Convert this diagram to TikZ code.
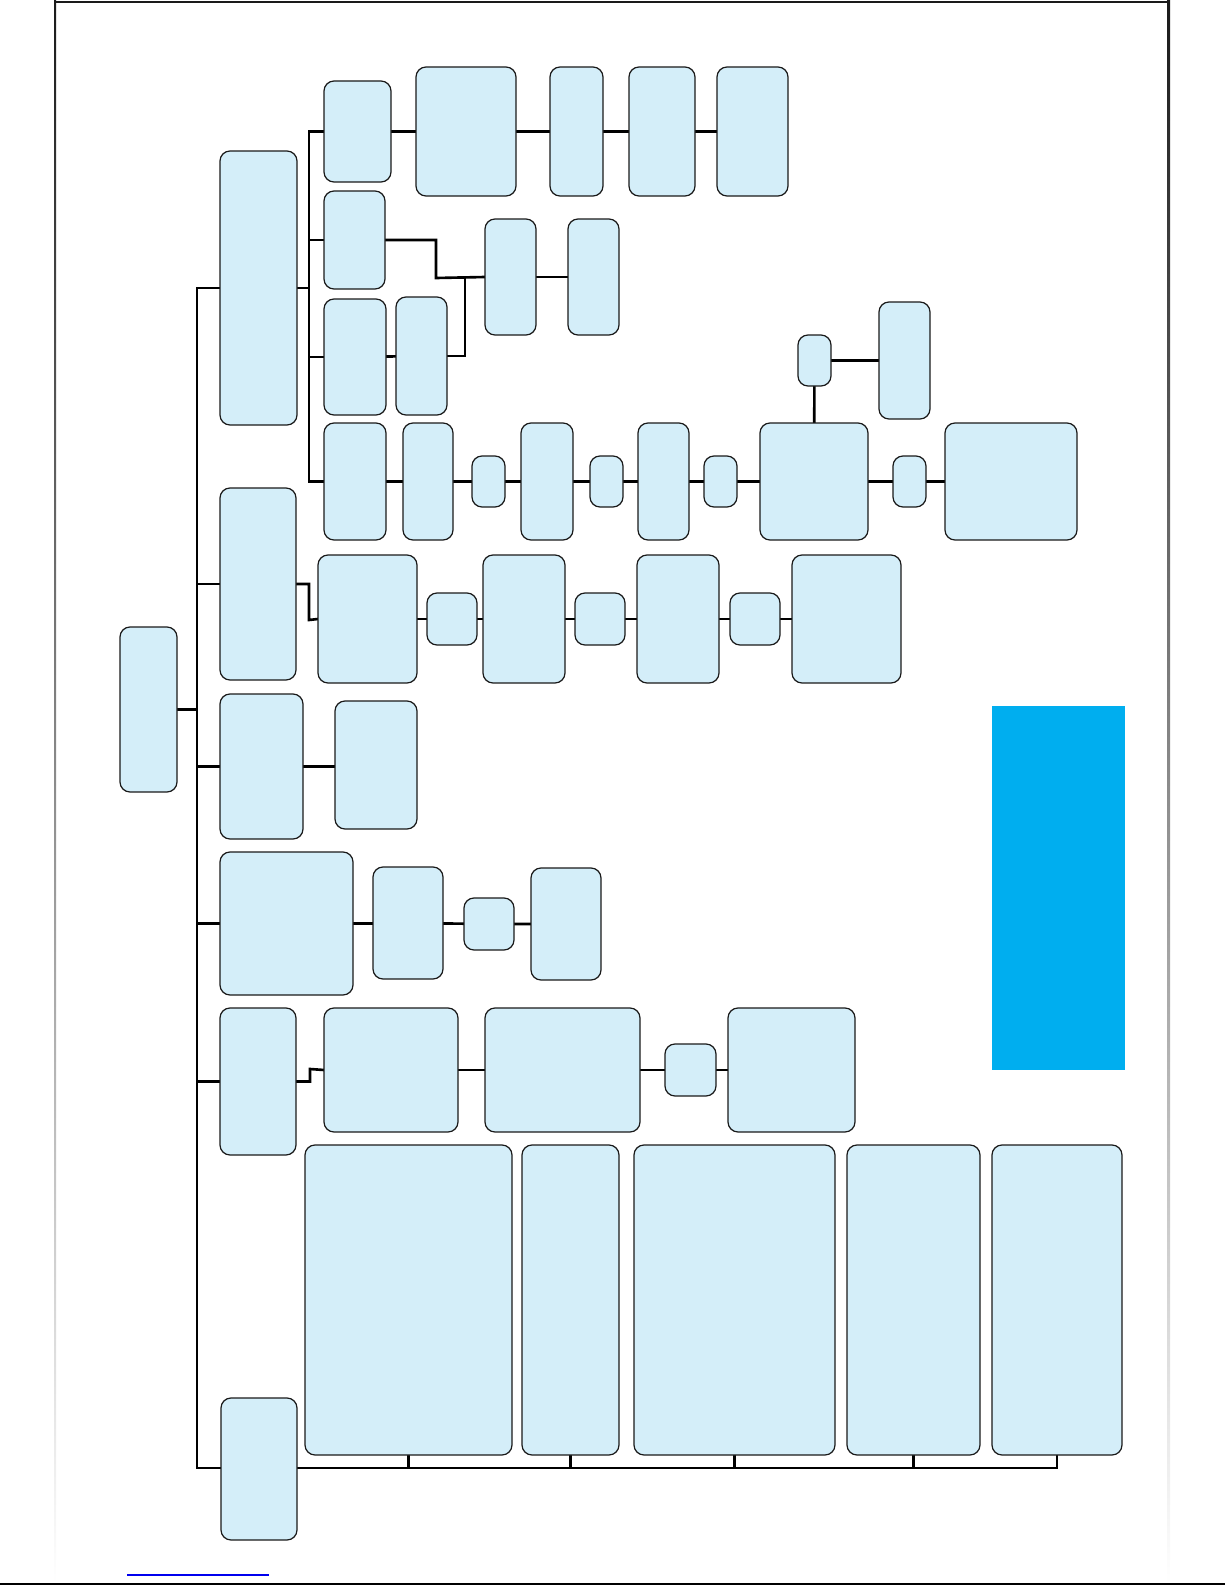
\documentclass[tikz,border=0pt]{standalone}
\usepackage{xcolor}
\usepackage{tikz}
\usetikzlibrary{backgrounds}
\definecolor{Ink}{HTML}{1A1A1A}
\definecolor{BoxFill}{HTML}{D4EEF9}
\definecolor{Banner}{HTML}{00AEEF}
\definecolor{LinkBlue}{HTML}{0000EE}
\newcommand\blkbox[5]{\node[blk,minimum width={(#4-#2)*0.02cm},minimum height={(#5-#3)*0.02cm}] (#1) at ({(#2+#4)/2},{(#3+#5)/2}) {};}

\begin{document}
\begin{tikzpicture}[x=0.02cm,y=-0.02cm,
  blk/.style={draw=Ink,fill=BoxFill,line width=0.7pt,rounded corners=0.2cm,inner sep=0pt,outer sep=0pt},
  wire/.style={draw=black,line width=1.5pt}]
  \useasboundingbox (0,0) rectangle (1225,1585);

  \blkbox{root}{120}{627}{177}{792}
  \blkbox{l1a}{220}{151}{297}{425}
  \blkbox{l1b}{220}{488}{296}{680}
  \blkbox{l1c}{220}{694}{303}{839}
  \blkbox{l1d}{220}{852}{353}{995}
  \blkbox{l1e}{220}{1008}{296}{1155}
  \blkbox{l1f}{221}{1398}{297}{1540}

  \blkbox{a1a}{324}{81}{391}{182}
  \blkbox{a1b}{416}{67}{516}{196}
  \blkbox{a1c}{550}{67}{603}{196}
  \blkbox{a1d}{629}{67}{695}{196}
  \blkbox{a1e}{717}{67}{788}{196}
  \blkbox{a2a}{324}{191}{385}{289}
  \blkbox{a2b}{485}{219}{536}{335}
  \blkbox{a2c}{568}{219}{619}{335}
  \blkbox{a3a}{324}{299}{386}{415}
  \blkbox{a3b}{396}{297}{447}{415}
  \blkbox{a4a}{324}{423}{386}{540}
  \blkbox{a4b}{403}{423}{453}{540}
  \blkbox{a4c}{472}{456}{505}{507}
  \blkbox{a4d}{521}{423}{573}{540}
  \blkbox{a4e}{590}{456}{623}{507}
  \blkbox{a4f}{638}{423}{689}{540}
  \blkbox{a4g}{704}{456}{737}{507}
  \blkbox{a4h}{760}{423}{868}{540}
  \blkbox{a4i}{893}{456}{926}{507}
  \blkbox{a4j}{945}{423}{1077}{540}
  \blkbox{hb}{798}{335}{831}{386}
  \blkbox{hc}{879}{302}{930}{419}

  \blkbox{b1a}{318}{555}{417}{683}
  \blkbox{b1b}{427}{593}{477}{645}
  \blkbox{b1c}{483}{555}{565}{683}
  \blkbox{b1d}{575}{593}{625}{645}
  \blkbox{b1e}{637}{555}{719}{683}
  \blkbox{b1f}{730}{593}{780}{645}
  \blkbox{b1g}{792}{555}{901}{683}

  \blkbox{c1a}{335}{701}{417}{829}

  \blkbox{d1a}{373}{867}{443}{979}
  \blkbox{d1b}{464}{898}{514}{950}
  \blkbox{d1c}{531}{868}{601}{980}

  \blkbox{e1a}{324}{1008}{458}{1132}
  \blkbox{e1b}{485}{1008}{640}{1132}
  \blkbox{e1c}{665}{1044}{716}{1096}
  \blkbox{e1d}{728}{1008}{855}{1132}

  \blkbox{f1}{305}{1145}{512}{1455}
  \blkbox{f2}{522}{1145}{619}{1455}
  \blkbox{f3}{634}{1145}{835}{1455}
  \blkbox{f4}{847}{1145}{980}{1455}
  \blkbox{f5}{992}{1145}{1122}{1455}

  \fill[Banner] (992,706) rectangle (1125,1070);

  \coordinate (sp) at (197,288);
  \coordinate (spb) at (197,1468);
  \coordinate (ss) at (309,131);
  \coordinate (kink) at (436,278);
  \coordinate (tee) at (465,278);
  \coordinate (bk) at (309,620);
  \coordinate (ek) at (310,1069);

  \begin{scope}[on background layer]
    \shade[top color=Ink,bottom color=white] (54,0) rectangle (56,1584);
    \shade[top color=Ink,bottom color=white] (1167,0) rectangle (1170,1584);
    \draw[Ink,line width=1.1pt] (54,2) -- (1170,2);
    \draw[black,line width=1.1pt] (0,1584) -- (1225,1584);
    \draw[LinkBlue,line width=0.6pt] (127,1575) -- (269,1575);

    \draw[wire] (root.east) -- (root.east -| sp);
    \draw[wire] (l1a.west) -- (sp) -- (spb) -| (f5.south);
    \draw[wire] (l1b.west) -- (l1b.west -| sp);
    \draw[wire] (l1c.west) -- (l1c.west -| sp);
    \draw[wire] (l1d.west) -- (l1d.west -| sp);
    \draw[wire] (l1e.west) -- (l1e.west -| sp);
    \draw[wire] (f1.south) -- (f1.south |- spb);
    \draw[wire] (f2.south) -- (f2.south |- spb);
    \draw[wire] (f3.south) -- (f3.south |- spb);
    \draw[wire] (f4.south) -- (f4.south |- spb);

    \draw[wire] (l1a.east) -- (l1a.east -| ss);
    \draw[wire] (a1a.west) -- (a1a.west -| ss) -- (a4a.west -| ss) -- (a4a.west);
    \draw[wire] (a2a.west) -- (a2a.west -| ss);
    \draw[wire] (a3a.west) -- (a3a.west -| ss);
    \draw[wire] (a1a) -- (a1b) -- (a1c) -- (a1d) -- (a1e);
    \draw[wire] (a2a.east) -| (kink) -- (a2b.west);
    \draw[wire] (a3b.east) -| (tee);
    \draw[wire] (a2b) -- (a2c);
    \draw[wire] (a3a) -- (a3b);
    \draw[wire] (a4a) -- (a4b) -- (a4c) -- (a4d) -- (a4e) -- (a4f) -- (a4g) -- (a4h) -- (a4i) -- (a4j);
    \draw[wire] (a4h) -- (hb);
    \draw[wire] (hb) -- (hc);

    \draw[wire] (l1b.east) -| (bk) -- (b1a.west);
    \draw[wire] (b1a) -- (b1b) -- (b1c) -- (b1d) -- (b1e) -- (b1f) -- (b1g);
    \draw[wire] (l1c.east) -- (l1c.east -| c1a.west);
    \draw[wire] (l1d.east) -- (l1d.east -| d1a.west);
    \draw[wire] (d1a) -- (d1b) -- (d1c);
    \draw[wire] (l1e.east) -| (ek) -- (e1a.west);
    \draw[wire] (e1a) -- (e1b) -- (e1c) -- (e1d);
  \end{scope}
\end{tikzpicture}
\end{document}
